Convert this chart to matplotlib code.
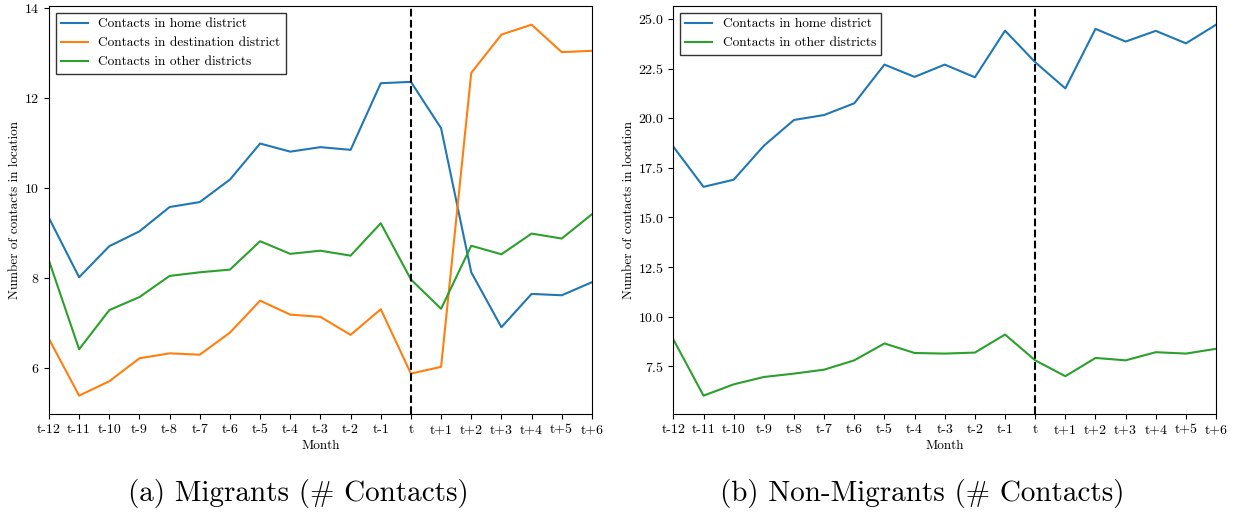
import matplotlib
matplotlib.use("Agg")
import matplotlib.pyplot as plt

plt.rcParams['font.family'] = ['cmr10', 'DejaVu Serif']
plt.rcParams['axes.formatter.use_mathtext'] = True
plt.rcParams['mathtext.fontset'] = 'cm'

months = ["t-12", "t-11", "t-10", "t-9", "t-8", "t-7", "t-6", "t-5", "t-4", "t-3",
          "t-2", "t-1", "t", "t+1", "t+2", "t+3", "t+4", "t+5", "t+6"]

# migrants
mig_home = [9.33, 8.01, 8.70, 9.03, 9.57, 9.68, 10.18, 10.98, 10.80, 10.90,
            10.84, 12.32, 12.35, 11.32, 8.12, 6.90, 7.64, 7.61, 7.90]
mig_dest = [6.64, 5.38, 5.70, 6.21, 6.32, 6.29, 6.78, 7.49, 7.18, 7.13,
            6.73, 7.30, 5.87, 6.02, 12.55, 13.40, 13.62, 13.01, 13.04]
mig_other = [8.38, 6.41, 7.28, 7.57, 8.04, 8.12, 8.18, 8.81, 8.53, 8.60,
             8.49, 9.21, 7.96, 7.31, 8.71, 8.52, 8.98, 8.87, 9.41]

# non-migrants
non_home = [18.56, 16.54, 16.90, 18.61, 19.91, 20.16, 20.75, 22.70, 22.08, 22.70,
            22.06, 24.41, 22.82, 21.50, 24.50, 23.86, 24.40, 23.77, 24.71]
non_other = [8.85, 6.02, 6.59, 6.96, 7.13, 7.33, 7.80, 8.65, 8.17, 8.14,
             8.19, 9.10, 7.80, 7.00, 7.92, 7.80, 8.21, 8.14, 8.38]

event_idx = months.index("t")
x = list(range(len(months)))

fig = plt.figure(figsize=(12.36, 5.12), dpi=100)
ax1 = fig.add_axes([0.0396, 0.191, 0.4393, 0.797])
ax2 = fig.add_axes([0.5448, 0.191, 0.4391, 0.797])

ax1.plot(x, mig_home, color="tab:blue", lw=1.5, label="Contacts in home district")
ax1.plot(x, mig_dest, color="tab:orange", lw=1.5, label="Contacts in destination district")
ax1.plot(x, mig_other, color="tab:green", lw=1.5, label="Contacts in other districts")

ax2.plot(x, non_home, color="tab:blue", lw=1.5, label="Contacts in home district")
ax2.plot(x, non_other, color="tab:green", lw=1.5, label="Contacts in other districts")

for ax in (ax1, ax2):
    ax.axvline(event_idx, color="black", ls="--", lw=1.5)
    ax.set_xlim(0, len(months) - 1)
    ax.set_xticks(x)
    ax.set_xticklabels(months)
    ax.tick_params(labelsize=10)
    ax.set_xlabel("Month", fontsize=9.5, labelpad=3)
    ax.set_ylabel("Number of contacts in location", fontsize=9.5, labelpad=2)
    ax.legend(loc="upper left", fontsize=9.6, fancybox=False, edgecolor="#333333",
              framealpha=1)

ax1.set_yticks([6, 8, 10, 12, 14])

fig.text(0.241, 0.022, "(a) Migrants (# Contacts)", ha="center", fontsize=21)
fig.text(0.746, 0.022, "(b) Non-Migrants (# Contacts)", ha="center", fontsize=21)

fig.savefig("out.png", dpi=100)
